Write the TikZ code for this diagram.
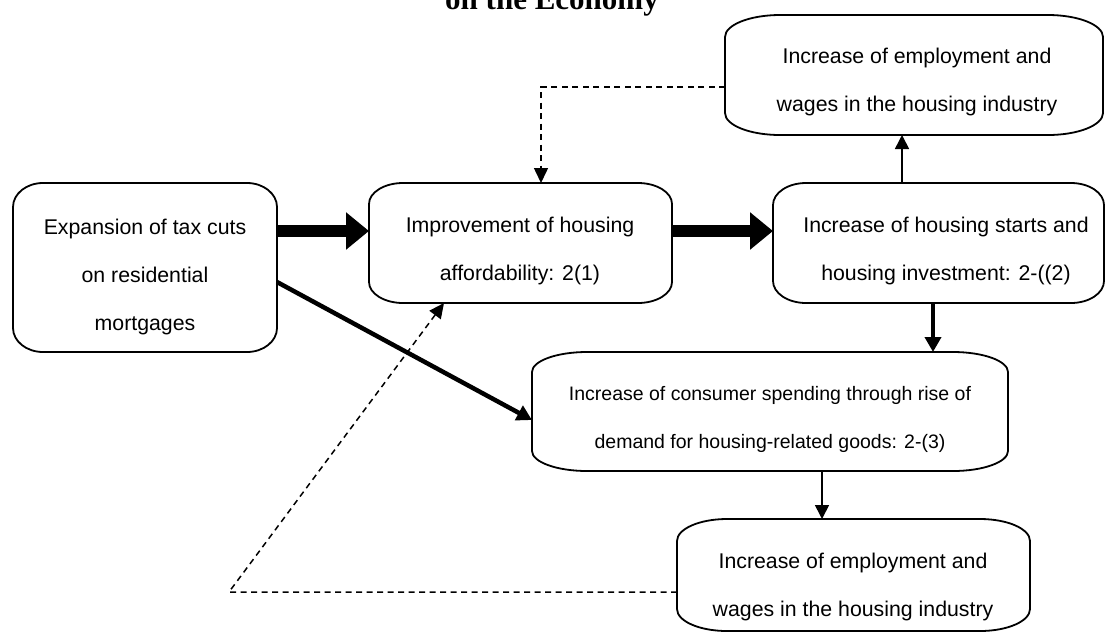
\documentclass[tikz,border=0pt]{standalone}
\usepackage{fontspec}
\setmainfont{Liberation Sans}
\newfontfamily\titlefont{Liberation Serif}
\usetikzlibrary{arrows.meta}

\tikzset{
  boxline/.style={line width=1.8pt, line join=round},
  boxshape/.style={inner sep=0pt, outer sep=0pt},
  boxtext/.style={align=center, font=\fontsize{21.3}{48}\selectfont, inner sep=0pt},
  smalltext/.style={boxtext, font=\fontsize{19.5}{48}\selectfont},
  heavy/.style={line width=12pt, -{Triangle[width=36pt,length=23pt]}},
  medium/.style={line width=4.5pt, -{Triangle[width=16pt,length=15pt]}},
  thinarrow/.style={line width=1.6pt, -{Triangle[width=14pt,length=14pt]}},
  feedback/.style={line width=1.5pt, dash pattern=on 6pt off 4.5pt, -{Triangle[width=14pt,length=15pt]}},
}

% rounded box with elliptical corners: name, x1, y1, x2, y2, rx, ry
\newcommand\flowbox[7]{%
  \node[boxshape, minimum width={(#4-#2)*1pt}, minimum height={(#5-#3)*1pt}]
    (#1) at ({(#2+#4)/2},{(#3+#5)/2}) {};
  \draw[boxline] ({#2+#6},#3) -- ({#4-#6},#3)
    .. controls ({#4-0.448*#6},#3) and (#4,{#3+0.448*#7}) .. (#4,{#3+#7})
    -- (#4,{#5-#7})
    .. controls (#4,{#5-0.448*#7}) and ({#4-0.448*#6},#5) .. ({#4-#6},#5)
    -- ({#2+#6},#5)
    .. controls ({#2+0.448*#6},#5) and (#2,{#5-0.448*#7}) .. (#2,{#5-#7})
    -- (#2,{#3+#7})
    .. controls (#2,{#3+0.448*#7}) and ({#2+0.448*#6},#3) .. ({#2+#6},#3) -- cycle;
}

\begin{document}
\begin{tikzpicture}[x=1pt, y=-1pt]
\useasboundingbox (0,0) rectangle (1105,633);
\clip (0,0) rectangle (1105,633);

% title (upper lines lie above the page)
\node[anchor=base, font=\titlefont\bfseries\fontsize{31}{31}\selectfont] (title) at (552,9.5) {on the Economy};

% boxes
\flowbox{A}{13}{183}{277}{352}{30}{24}
\node[boxtext] (A-text) at (145,277) {Expansion of tax cuts\\on residential\\mortgages};

\flowbox{B}{369}{183}{672}{303}{34}{21}
\node[boxtext] (B-text) at (520,251) {Improvement of housing\\affordability: 2(1)};

\flowbox{C}{773}{183}{1104}{303}{33}{22}
\node[boxtext] (C-text) at (946,251) {Increase of housing starts and\\housing investment: 2-((2)};

\flowbox{D}{725}{15}{1103}{135}{55}{22}
\node[boxtext] (D-text) at (917,81.5) {Increase of employment and\\wages in the housing industry};

\flowbox{E}{532}{352}{1008}{471}{55}{20}
\node[smalltext] (E-text) at (770,419.5) {Increase of consumer spending through rise of\\demand for housing-related goods: 2-(3)};

\flowbox{F}{677}{519}{1030}{631}{50}{22}
\node[boxtext] (F-text) at (853,586.5) {Increase of employment and\\wages in the housing industry};

% main chain
\coordinate (yab) at (0,231);
\draw[heavy] (A.east |- yab) -- (B.west |- yab);
\draw[heavy] (B.east |- yab) -- (C.west |- yab);

\coordinate (xcd) at (902,0);
\draw[thinarrow] (C.north -| xcd) -- (D.south -| xcd);

\coordinate (xce) at (933,0);
\draw[medium] (C.south -| xce) -- (E.north -| xce);

\coordinate (xef) at (822,0);
\draw[thinarrow] (E.south -| xef) -- (F.north -| xef);

\coordinate (yae) at (0,282);
\coordinate (yea) at (0,420);
\draw[medium] (A.east |- yae) -- (E.west |- yea);

% feedback loops
\coordinate (dbend) at (541,87);
\draw[feedback] (D.west |- dbend) -- (dbend) -- (B.north -| dbend);

\coordinate (fbend) at (229,592);
\coordinate (xfb) at (444,0);
\draw[feedback] (F.west |- fbend) -- (fbend) -- (B.south -| xfb);
\end{tikzpicture}
\end{document}
